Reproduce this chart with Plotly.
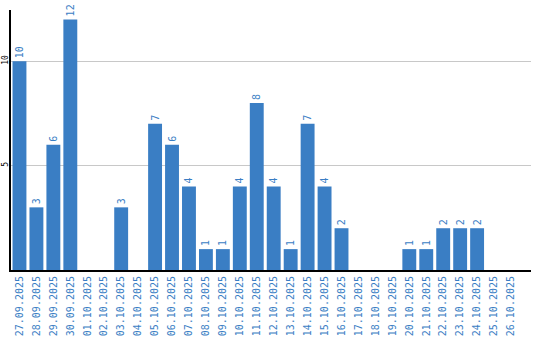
import plotly.graph_objects as go

dates = ["27.09.2025", "28.09.2025", "29.09.2025", "30.09.2025", "01.10.2025", "02.10.2025",
         "03.10.2025", "04.10.2025", "05.10.2025", "06.10.2025", "07.10.2025", "08.10.2025",
         "09.10.2025", "10.10.2025", "11.10.2025", "12.10.2025", "13.10.2025", "14.10.2025",
         "15.10.2025", "16.10.2025", "17.10.2025", "18.10.2025", "19.10.2025", "20.10.2025",
         "21.10.2025", "22.10.2025", "23.10.2025", "24.10.2025", "25.10.2025", "26.10.2025"]
values = [10, 3, 6, 12, 0, 0, 3, 0, 7, 6, 4, 1, 1, 4, 8, 4, 1, 7, 4, 2,
          0, 0, 0, 1, 1, 2, 2, 2, 0, 0]
y_ticks = [5, 10]

blue = "#3a7ec4"
labels = [str(v) if v else "" for v in values]

fig = go.Figure(go.Bar(
    x=list(range(len(dates))), y=values, marker=dict(color=blue, line=dict(width=0)),
    text=labels, texttemplate="%{text}", textposition="outside", textangle=-90,
    textfont=dict(family="DejaVu Sans Mono", size=10, color=blue), cliponaxis=False,
))
fig.update_layout(
    width=540, height=340, margin=dict(l=11, r=9, t=10, b=70),
    paper_bgcolor="white", plot_bgcolor="white", bargap=0.18, showlegend=False,
    uniformtext=dict(minsize=10, mode="show"),
)
fig.update_xaxes(
    tickmode="array", tickvals=list(range(len(dates))), ticktext=dates, tickangle=-90,
    tickfont=dict(family="DejaVu Sans Mono", size=10, color=blue),
    range=[-0.5, 30.18], showline=True, linecolor="black", linewidth=2,
    showgrid=False, ticks="", automargin=False,
)
fig.update_yaxes(
    range=[0, 12.45], tickvals=y_ticks, tickangle=-90,
    tickfont=dict(family="DejaVu Sans Mono", size=8, color="black"),
    showgrid=True, gridcolor="#c8c8c8", gridwidth=1, zeroline=False,
    showline=True, linecolor="black", linewidth=2, ticks="", automargin=False,
    ticklabelstandoff=-2,
)
fig.write_html("out.html")
